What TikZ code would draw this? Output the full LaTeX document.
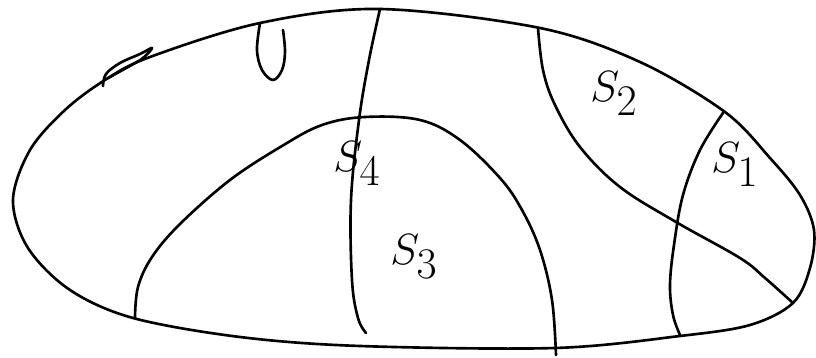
\documentclass[tikz,border=0pt]{standalone}
\usepackage{amsmath}
\usetikzlibrary{positioning}
\definecolor{ink}{HTML}{000000}
\tikzset{
  pen/.style={draw=ink, line width=1.5pt, line cap=round, line join=round},
  region/.style={inner sep=0pt, font=\fontsize{36}{40}\selectfont, text=ink}
}

\begin{document}
\begin{tikzpicture}[x=0.02cm, y=-0.02cm]
  \useasboundingbox (0,0) rectangle (816,358);
  % outer boundary
  \draw[pen] plot[smooth cycle, tension=0.55] coordinates {
    (13,200) (30,150) (65,110) (105,80) (150,57) (260,23) (380,9) (540,28)
    (640,62) (725,112) (770,158) (800,195) (814,230) (810,268) (793,303) (750,325)
    (680,336) (555,348) (360,346) (240,337) (133,318) (70,290) (28,248)};
  % small features on the top edge
  \draw[pen] plot[smooth, tension=0.6] coordinates {
    (103,86) (106,74) (120,63) (140,54) (152,48) (143,58) (128,67) (108,78)};
  \draw[pen] plot[smooth, tension=0.6] coordinates {
    (260,23) (257,50) (262,70) (273,80) (282,70) (285,52) (283,30)};
  % dividing curves
  \draw[pen] plot[smooth, tension=0.6] coordinates {
    (380,9) (369,60) (359,120) (351,200) (352,280) (358,318) (366,333)};
  \draw[pen] plot[smooth, tension=0.6] coordinates {
    (135,318) (138,287) (152,257) (180,224) (230,180) (282,146) (322,125)
    (365,117) (420,120) (460,140) (500,178) (522,210) (540,250) (552,300) (556,355)};
  \draw[pen] plot[smooth, tension=0.6] coordinates {
    (538,28) (543,70) (555,105) (580,147) (620,187) (676,222) (740,258)
    (765,278) (793,303)};
  \draw[pen] plot[smooth, tension=0.6] coordinates {
    (723,113) (700,150) (683,195) (674,245) (670,285) (673,315) (680,335)};
  % region labels
  \node[region, anchor=base west] (s4) at (333,172) {$S_4$};
  \node[region, anchor=base west] (s3) at (390,265) {$S_3$};
  \node[region, anchor=base west] (s2) at (590,102) {$S_2$};
  \node[region, anchor=base west] (s1) at (711,173) {$S_1$};
\end{tikzpicture}
\end{document}
